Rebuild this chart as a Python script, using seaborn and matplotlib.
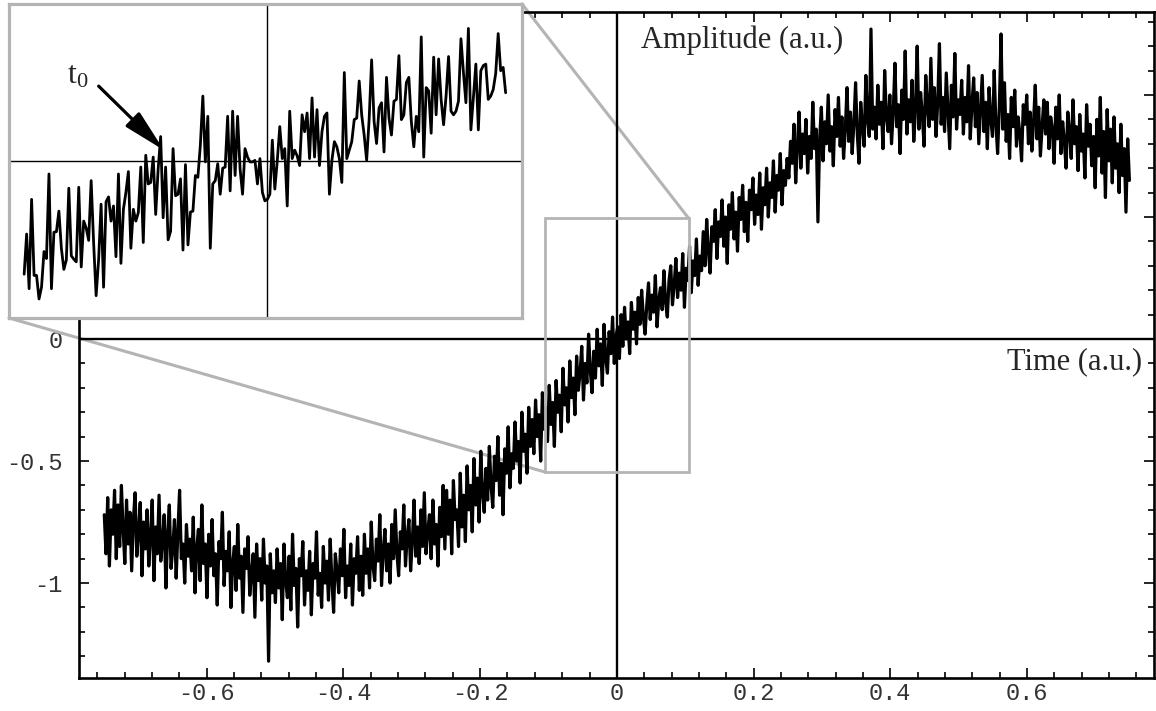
import numpy as np
import pandas as pd
import matplotlib
matplotlib.use("Agg")
import matplotlib.pyplot as plt
import seaborn as sns
from matplotlib.patches import Rectangle, ConnectionPatch
from matplotlib.ticker import MultipleLocator, FixedLocator, FixedFormatter

# ---------------- data ----------------
time_start, time_end = -0.75, 0.75
amplitude = [
    -0.72,-0.88,-0.65,-0.93,-0.70,-0.80,-0.62,-0.90,-0.68,-0.85,
    -0.60,-0.78,-0.92,-0.66,-0.84,-0.71,-0.95,-0.74,-0.63,-0.89,
    -0.79,-0.67,-0.97,-0.75,-0.86,-0.70,-0.93,-0.81,-0.66,-0.99,
    -0.77,-0.88,-0.64,-0.91,-0.83,-0.72,-1.02,-0.80,-0.68,-0.94,
    -0.86,-0.74,-0.98,-0.79,-0.62,-0.90,-0.84,-1.00,-0.76,-0.89,
    -0.82,-0.95,-0.73,-1.04,-0.86,-0.78,-0.99,-0.68,-0.92,-0.84,
    -1.06,-0.80,-0.93,-0.74,-0.97,-0.88,-1.09,-0.83,-0.90,-0.71,
    -1.01,-0.87,-0.95,-0.79,-1.10,-0.92,-0.85,-1.03,-0.76,-0.98,
    -0.89,-1.12,-0.86,-0.94,-0.81,-1.05,-0.96,-0.88,-1.14,-0.84,
    -0.99,-0.90,-1.07,-0.82,-1.00,-0.93,-1.32,-0.88,-1.04,-0.95,
    -1.08,-0.86,-1.02,-0.92,-1.15,-0.84,-0.99,-1.06,-0.89,-1.11,
    -0.80,-1.01,-0.94,-1.18,-0.90,-0.97,-0.83,-1.09,-0.95,-1.03,
    -0.87,-1.13,-0.92,-0.98,-0.79,-1.05,-0.96,-1.10,-0.85,-1.00,
    -0.91,-1.07,-0.82,-0.99,-1.12,-0.88,-0.95,-1.04,-0.86,-0.97,
    -0.78,-1.06,-0.93,-1.01,-0.84,-1.09,-0.90,-0.96,-0.81,-1.03,
    -0.89,-1.05,-0.80,-0.96,-0.86,-1.02,-0.75,-0.93,-0.99,-0.82,
    -0.91,-0.72,-1.01,-0.87,-0.78,-0.95,-0.84,-1.00,-0.76,-0.90,
    -0.70,-0.88,-0.97,-0.79,-0.86,-0.68,-0.93,-0.81,-0.74,-0.95,
    -0.83,-0.66,-0.89,-0.77,-0.92,-0.70,-0.85,-0.63,-0.88,-0.79,
    -0.72,-0.90,-0.66,-0.84,-0.76,-0.93,-0.69,-0.81,-0.60,-0.86,
    -0.62,-0.80,-0.66,-0.88,-0.58,-0.74,-0.70,-0.85,-0.55,-0.77,
    -0.64,-0.83,-0.52,-0.70,-0.60,-0.79,-0.49,-0.68,-0.57,-0.75,
    -0.46,-0.63,-0.71,-0.53,-0.66,-0.44,-0.60,-0.69,-0.48,-0.58,
    -0.40,-0.64,-0.51,-0.72,-0.45,-0.55,-0.36,-0.61,-0.47,-0.53,
    -0.34,-0.50,-0.42,-0.59,-0.30,-0.46,-0.39,-0.55,-0.28,-0.44,
    -0.33,-0.47,-0.25,-0.40,-0.31,-0.50,-0.22,-0.37,-0.28,-0.42,
    -0.19,-0.35,-0.26,-0.44,-0.17,-0.30,-0.23,-0.38,-0.12,-0.27,
    -0.20,-0.34,-0.09,-0.24,-0.16,-0.31,-0.07,-0.21,-0.14,-0.03,
    -0.25,-0.10,-0.18,0.02,-0.13,-0.22,-0.05,-0.16,0.04,-0.11,
    -0.02,-0.19,0.06,-0.08,-0.14,0.03,-0.06,0.09,-0.10,0.01,
    0.05,-0.08,0.10,-0.03,0.13,0.00,0.07,-0.06,0.15,0.04,
    0.11,-0.02,0.17,0.06,0.20,0.09,0.02,0.14,0.23,0.08,
    0.18,0.11,0.26,0.05,0.16,0.21,0.12,0.28,0.15,0.09,
    0.24,0.30,0.14,0.22,0.33,0.17,0.27,0.20,0.35,0.13,
    0.29,0.24,0.38,0.19,0.32,0.26,0.41,0.22,0.34,0.28,
    0.44,0.30,0.49,0.36,0.27,0.46,0.40,0.53,0.33,0.48,
    0.42,0.57,0.38,0.50,0.31,0.55,0.45,0.60,0.41,0.52,
    0.36,0.58,0.49,0.63,0.44,0.56,0.40,0.61,0.53,0.66,
    0.47,0.59,0.51,0.68,0.45,0.62,0.55,0.70,0.50,0.64,
    0.58,0.73,0.52,0.67,0.61,0.76,0.55,0.69,0.63,0.74,
    0.66,0.81,0.72,0.88,0.64,0.79,0.93,0.70,0.84,0.76,
    0.90,0.68,0.83,0.74,0.97,0.78,0.86,0.48,0.82,0.95,
    0.73,0.89,0.80,1.00,0.77,0.87,0.71,0.94,0.83,0.99,
    0.79,0.91,0.74,0.86,1.03,0.81,0.93,0.76,0.88,1.05,
    0.84,0.72,0.97,0.87,0.79,1.08,0.90,0.83,1.27,0.86,
    0.95,0.82,1.04,0.88,0.97,0.78,1.10,0.91,0.85,1.00,
    0.80,0.93,1.13,0.87,0.96,0.76,1.02,0.90,1.18,0.84,
    0.98,0.89,1.06,0.81,0.94,1.20,0.86,1.01,0.92,0.79,
    1.08,0.95,0.87,1.15,0.90,1.03,0.83,0.97,1.21,0.88,
    0.99,0.85,1.09,0.93,0.78,1.04,0.91,1.17,0.86,0.98,
    0.92,1.06,0.84,0.99,0.89,1.12,0.82,0.96,1.07,0.87,
    1.01,0.80,0.94,1.08,0.85,0.97,0.78,1.03,0.90,0.83,
    1.10,0.88,0.76,0.95,1.25,0.86,1.05,0.81,0.92,0.74,
    0.99,0.87,1.02,0.79,0.91,0.84,0.73,0.96,0.88,1.00,
    0.80,0.93,0.77,0.89,1.04,0.82,0.95,0.75,0.87,0.98,
    0.84,0.97,0.78,0.91,0.86,0.72,0.95,0.82,1.00,0.76,
    0.89,0.81,0.70,0.93,0.85,0.74,0.98,0.80,0.87,0.69,
    0.92,0.77,0.84,0.66,0.96,0.79,0.88,0.71,0.83,0.62,
    0.90,0.75,0.99,0.68,0.85,0.58,0.94,0.73,0.86,0.64,
    0.91,0.70,0.80,0.60,0.88,0.67,0.78,0.52,0.82,0.65,
]

inset_time_start, inset_time_end = -0.0994, 0.0977
inset_amplitude = [
    -0.375,-0.242,-0.423,-0.127,-0.379,-0.379,-0.457,-0.418,-0.300,-0.323,
    -0.043,-0.423,-0.236,-0.234,-0.166,-0.289,-0.359,-0.328,-0.090,-0.314,
    -0.325,-0.334,-0.087,-0.351,-0.199,-0.222,-0.263,-0.065,-0.272,-0.446,
    -0.328,-0.143,-0.418,-0.135,-0.119,-0.199,-0.149,-0.317,-0.043,-0.339,
    -0.160,-0.104,-0.035,-0.289,-0.160,-0.199,-0.171,-0.020,-0.270,0.019,
    -0.076,-0.071,0.013,-0.177,-0.026,0.081,-0.188,-0.020,-0.261,-0.233,
    0.041,-0.115,-0.110,-0.059,-0.295,-0.012,-0.278,-0.169,-0.166,-0.048,
    -0.054,0.053,0.215,-0.003,0.148,-0.289,-0.076,-0.065,-0.009,-0.110,
    -0.024,-0.020,0.148,-0.099,0.165,-0.048,0.148,-0.026,-0.110,0.041,
    0.013,-0.003,-0.003,0.002,-0.076,0.008,-0.104,-0.132,-0.127,-0.110,
    0.069,-0.093,0.002,0.114,0.008,0.041,-0.149,0.165,0.008,0.036,
    0.017,-0.015,0.153,0.097,0.159,0.008,0.209,0.013,0.170,-0.015,
    0.097,0.148,0.159,-0.110,0.002,0.064,0.047,0.008,-0.071,0.293,
    0.008,0.036,0.064,0.137,0.142,0.265,0.153,0.086,0.002,0.137,
    0.335,0.131,0.058,0.176,0.193,0.030,0.277,0.142,0.086,0.198,
    0.204,0.349,0.137,0.153,0.260,0.277,0.131,0.047,0.148,0.097,
    0.411,0.013,0.243,0.232,0.092,0.344,0.153,0.338,0.204,0.120,
    0.215,0.346,0.165,0.153,0.165,0.198,0.405,0.293,0.193,0.439,
    0.103,0.209,0.321,0.103,0.299,0.316,0.321,0.204,0.215,0.237,
    0.290,0.422,0.299,0.310,0.226,
]

x_ticks = [-0.6, -0.4, -0.2, 0, 0.2, 0.4, 0.6]
x_ticklabels = ["-0.6", "-0.4", "-0.2", "0", "0.2", "0.4", "0.6"]
y_ticks = [-1, -0.5, 0, 0.5, 1]
y_ticklabels = ["-1", "-0.5", "0", "0.5", "1"]

zoom_x = (-0.105, 0.105)
zoom_y = (-0.545, 0.495)
t0_tip = (-0.0422, 0.036)
t0_tail = (-0.0689, 0.248)
t0_label_pos = (-0.0775, 0.283)

main_df = pd.DataFrame({
    "time": np.linspace(time_start, time_end, len(amplitude)),
    "amplitude": amplitude,
})
inset_df = pd.DataFrame({
    "time": np.linspace(inset_time_start, inset_time_end, len(inset_amplitude)),
    "amplitude": inset_amplitude,
})

# ---------------- style ----------------
sns.set_theme(style="white")
plt.rcParams["font.family"] = ["Liberation Serif", "DejaVu Serif"]
plt.rcParams["mathtext.fontset"] = "custom"
plt.rcParams["mathtext.rm"] = "Liberation Serif"
plt.rcParams["mathtext.it"] = "Liberation Serif"
plt.rcParams["axes.unicode_minus"] = False

fig = plt.figure(figsize=(11.56, 7.11), dpi=100)
W, H = 1156, 711
ax = fig.add_axes([79 / W, (H - 678) / H, (1154 - 79) / W, (678 - 12) / H])

sns.lineplot(data=main_df, x="time", y="amplitude", ax=ax, color="black",
             linewidth=2.3, estimator=None, sort=False, legend=False, zorder=3)

ax.set_xlim(-0.787, 0.786)
ax.set_ylim(-1.389, 1.340)
ax.set_xlabel("")
ax.set_ylabel("")

for sp in ax.spines.values():
    sp.set_linewidth(1.9)
    sp.set_color("black")

ax.xaxis.set_major_locator(FixedLocator(x_ticks))
ax.xaxis.set_major_formatter(FixedFormatter(x_ticklabels))
ax.xaxis.set_minor_locator(MultipleLocator(0.04))
ax.yaxis.set_major_locator(FixedLocator(y_ticks))
ax.yaxis.set_major_formatter(FixedFormatter(y_ticklabels))
ax.yaxis.set_minor_locator(MultipleLocator(0.1))
ax.tick_params(which="both", direction="in", top=True, right=True,
               bottom=True, left=True, color="black", width=1.2)
ax.tick_params(which="major", length=7.5)
ax.tick_params(which="minor", length=4.5)
ax.tick_params(axis="x", which="major", pad=3)
ax.tick_params(axis="y", which="major", pad=12)
for lab in ax.get_xticklabels() + ax.get_yticklabels():
    lab.set_family(["Liberation Mono", "DejaVu Sans Mono"])
    lab.set_fontsize(17)
    lab.set_color("#333333")

ax.axhline(0, color="black", lw=1.7, zorder=2)
ax.axvline(0, color="black", lw=1.7, zorder=2)

ax.text(0.035, 1.225, "Amplitude (a.u.)", fontsize=22, ha="left", va="center")
ax.text(0.768, -0.094, "Time (a.u.)", fontsize=22, ha="right", va="center")

grey = "#b4b4b4"
ax.add_patch(Rectangle((zoom_x[0], zoom_y[0]), zoom_x[1] - zoom_x[0],
                       zoom_y[1] - zoom_y[0], fill=False, edgecolor=grey,
                       lw=2.0, zorder=4))

# ---------------- inset ----------------
axin = fig.add_axes([9 / W, (H - 318) / H, (522 - 9) / W, (318 - 4) / H])
axin.set_facecolor("white")
sns.lineplot(data=inset_df, x="time", y="amplitude", ax=axin, color="black",
             linewidth=2.0, estimator=None, sort=False, legend=False, zorder=3)
axin.set_xlim(-0.1056, 0.1044)
axin.set_ylim(-0.52, 0.52)
axin.set_xticks([])
axin.set_yticks([])
axin.set_xlabel("")
axin.set_ylabel("")
for sp in axin.spines.values():
    sp.set_linewidth(2.3)
    sp.set_color(grey)
axin.axhline(0, color="black", lw=1.0, zorder=2)
axin.axvline(0, color="black", lw=1.0, zorder=2)

axin.annotate("", xy=t0_tip, xytext=t0_tail,
              arrowprops=dict(arrowstyle="-|>,head_length=1.3,head_width=0.3",
                              color="black", lw=2.3, shrinkA=0, shrinkB=0,
                              mutation_scale=20))
axin.text(t0_label_pos[0], t0_label_pos[1], r"$\mathrm{t_0}$", fontsize=23,
          ha="center", va="center")

# connector lines
for xyA, xyB in [((0, 0), (zoom_x[0], zoom_y[0])), ((1, 1), (zoom_x[1], zoom_y[1]))]:
    con = ConnectionPatch(xyA=xyA, coordsA=axin.transAxes, xyB=xyB,
                          coordsB=ax.transData, color=grey, lw=2.2, zorder=1)
    ax.add_artist(con)

fig.savefig("out.png", dpi=100)
